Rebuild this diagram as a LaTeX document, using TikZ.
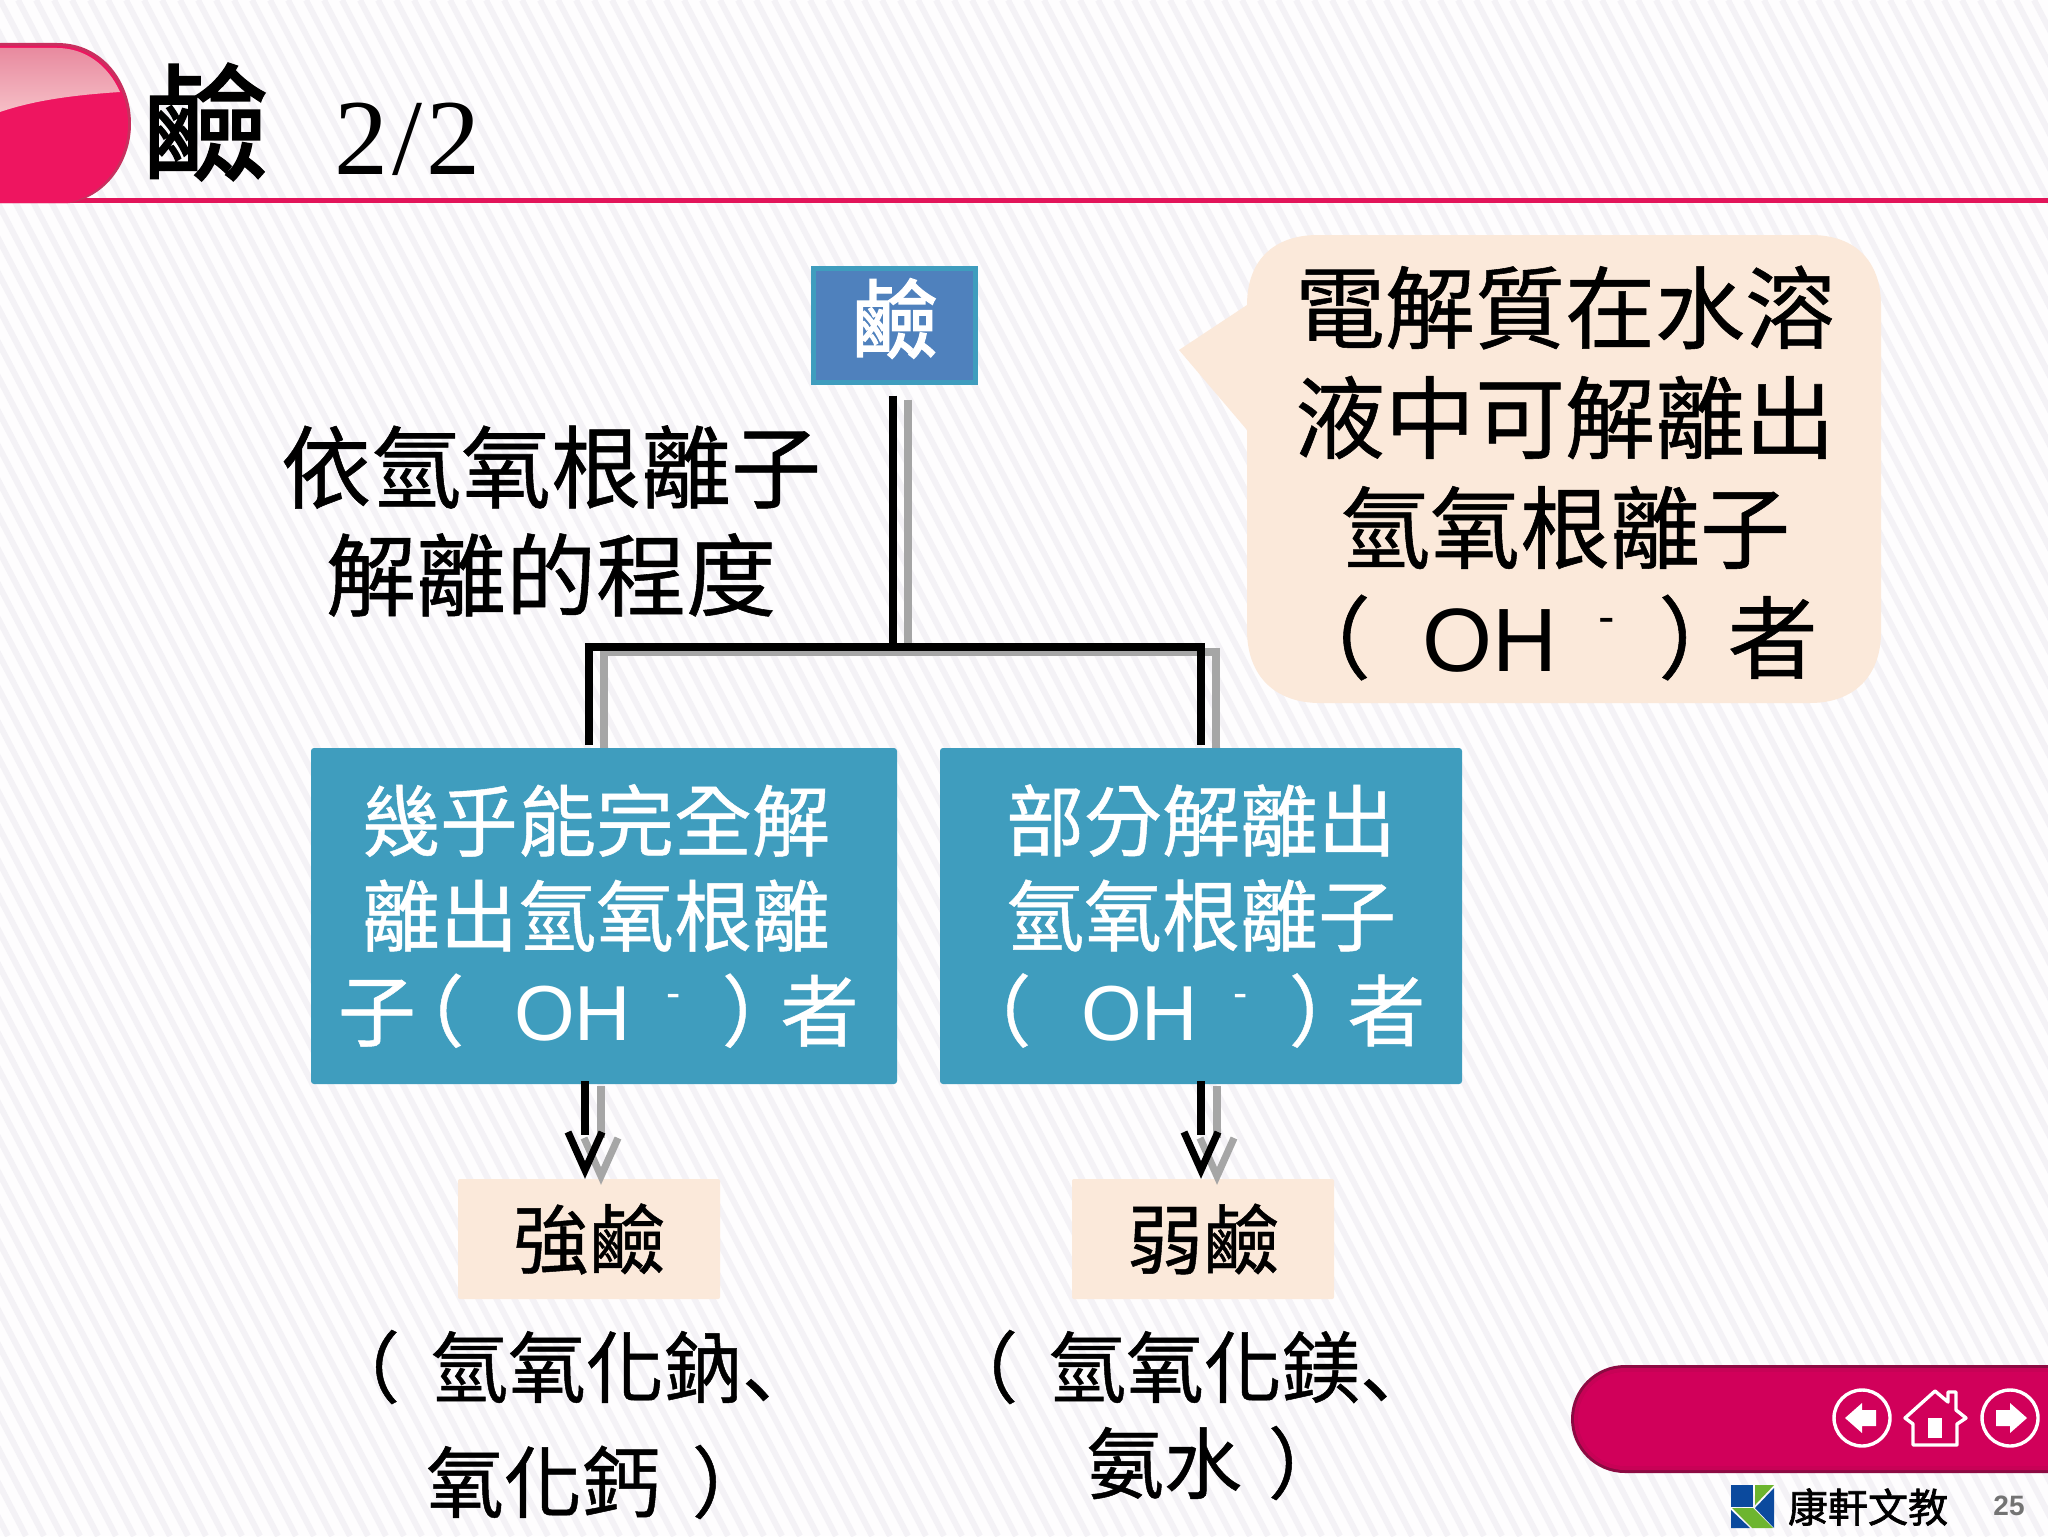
\documentclass[tikz,border=0pt]{standalone}
\usepackage{fontspec}
\setmainfont{Liberation Sans}
\newfontfamily\cjk[AutoFakeBold=0.6]{Noto Sans CJK TC}
\newfontfamily\cjkheavy[FakeBold=1.6]{Noto Sans CJK TC}
\newfontfamily\cjksc[AutoFakeBold=0.6]{Noto Sans CJK SC}
\newfontfamily\lib{Liberation Sans}
\newfontfamily\libser{Liberation Serif}
\usetikzlibrary{calc}
\definecolor{stripe}{HTML}{F4F2F6}
\definecolor{bgw}{HTML}{FEFDFE}
\definecolor{pill}{HTML}{EE1560}
\definecolor{pilledge}{HTML}{C8305F}
\definecolor{rule}{HTML}{E2155A}
\definecolor{teal}{HTML}{3F9DBE}
\definecolor{topblue}{HTML}{4F81BD}
\definecolor{peach}{HTML}{FBE9DA}
\definecolor{shade}{HTML}{A6A6A6}
\definecolor{nav}{HTML}{D1005A}
\definecolor{navdark}{HTML}{8C0A42}
\definecolor{logoblue}{HTML}{0B4A9E}
\definecolor{logogreen}{HTML}{6DB52F}
\definecolor{glosstop}{HTML}{E88A9F}
\definecolor{glossbot}{HTML}{F6BEC6}
\newcommand\ion[1]{{\lib\mdseries OH\kern#1\raisebox{.42em}{\scalebox{.55}{-}}}}
\tikzset{
  x=0.5pt,y=-0.5pt,
  every node/.style={inner sep=0pt,outer sep=0pt},
  tealbox/.style={fill=teal,rounded corners=1.5pt,text=white,align=center,font=\cjk\bfseries\fontsize{39}{47.5}\selectfont},
  peachbox/.style={fill=peach,rounded corners=1pt,minimum width=131pt,minimum height=60pt,font=\cjk\bfseries\fontsize{38}{46}\selectfont},
  plain/.style={font=\cjk\fontsize{39}{47.5}\selectfont\bfseries,anchor=west},
  bigtext/.style={align=center,font=\cjk\bfseries\fontsize{45}{54}\selectfont},
  blackline/.style={draw=black,line width=4pt,miter limit=10},
  shadeline/.style={draw=shade,line width=4pt,miter limit=10},
  navicon/.style={draw=white,line width=1.7pt,fill=none},
  navfill/.style={fill=white,draw=none}
}
\begin{document}
\begin{tikzpicture}
\useasboundingbox (0,0) rectangle (2048,1536);
% background
\fill[bgw] (0,0) rectangle (2048,1536);
\begin{scope}
\clip (0,0) rectangle (2048,1536);
\foreach \i in {-900,-882,...,2048}{
  \draw[stripe,line width=3pt] (\i,0) -- ++(800,1536);
}
\end{scope}
% header
\fill[rule] (0,198) rectangle (2048,203);
\fill[pilledge] (0,43) -- (57,43) .. controls (103,43) and (131,82) .. (131,124) .. controls (131,160) and (108,196) .. (70,203) -- (0,203) -- cycle;
\fill[pill] (0,46) -- (57,46) .. controls (100,46) and (128,84) .. (128,124) .. controls (128,160) and (105,194) .. (68,203) -- (0,203) -- cycle;
\shade[top color=glosstop,bottom color=glossbot] (0,48) -- (57,48) .. controls (85,48) and (108,65) .. (120,92) .. controls (75,95) and (35,100) .. (0,112) -- cycle;
% connectors: shadows first
\coordinate (jn) at (893,647);
\coordinate (bl) at (589,647);
\coordinate (br) at (1201,647);
\coordinate (sjn) at (908,652);
\coordinate (sbl) at (604,652);
\coordinate (sbr) at (1216,652);
\node[fill=topblue,draw=teal,line width=2.5pt,minimum width=81pt,minimum height=57pt] (base) at (894.5,325.5) {};
\draw[shadeline] ($(sjn |- base.south)+(0,17)$) -- (sjn);
\draw[shadeline] (604,750) -- (sbl) -- (sbr) -- (1216,750);
\draw[blackline] ($(jn |- base.south)+(0,13)$) -- (jn);
\node[tealbox,minimum width=293pt,minimum height=168pt] (strongbox) at (604,916) {幾乎能完全解\kern8pt\\離出氫氧根離\kern8pt\\子\kern-.38em（\kern.64em\ion{.45em}\kern.53em）\kern-.25em 者\kern.15em};
\node[tealbox,minimum width=261pt,minimum height=168pt] (weakbox) at (1201,916) {部分解離出\\氫氧根離子\\（\kern.64em\ion{.45em}\kern.53em）\kern-.25em 者\kern.3em};
\node[peachbox] (strong) at (589,1239) {\raisebox{-1.5pt}{強鹼}};
\node[peachbox] (weak) at (1203,1239) {\raisebox{-1.5pt}{弱鹼}};
\draw[blackline] ($(bl |- strongbox.north)+(0,-3)$) -- (bl) -- (br) -- ($(br |- weakbox.north)+(0,-3)$);
\foreach \b/\t/\cx in {strongbox/strong/585,weakbox/weak/1201}{
  \coordinate (s) at (\cx,1084);
  \draw[shadeline] (\cx+16,1086) -- (\cx+16,1138);
  \draw[shadeline,line width=3.6pt] (\cx-1,1138) -- (\cx+16,1176) -- (\cx+33,1138);
  \draw[blackline] (\cx,1081) -- (\cx,1135);
  \draw[blackline,line width=3.6pt] (\cx-17,1132) -- (\cx,1170) -- (\cx+17,1132);
}
% base text
\node[text=white,font=\cjkheavy\fontsize{43}{50}\selectfont] at ($(base.center)+(0,-7)$) {鹼};
% title
\node[anchor=center,font=\cjkheavy\fontsize{63}{70}\selectfont] (title) at (205,122) {鹼};
\node[anchor=base west,font=\libser\fontsize{54}{60}\selectfont] (num) at (334,174) {2\kern2pt/\kern2pt2};
% left label
\node[bigtext] (lab) at (551,521) {依氫氧根離子\\解離的程度};
% callout
\fill[peach] (1318,235) -- (1811,235) .. controls (1856,235) and (1881,262) .. (1881,305)
  -- (1881,632) .. controls (1881,676) and (1854,703) .. (1810,703)
  -- (1320,703) .. controls (1275,703) and (1247,676) .. (1247,630)
  -- (1247,430) -- (1179,350) -- (1247,305) .. controls (1247,262) and (1272,235) .. (1318,235) -- cycle;
\node[bigtext,font=\cjk\bfseries\fontsize{45}{55}\selectfont] (call) at (1565,473) {電解質在水溶\\液中可解離出\\氫氧根離子\\（\kern.57em\ion{.46em}\kern.48em）\kern-.23em 者\kern.35em};
% lower texts
\node[plain] (na1) at (322,1367) {（\kern15pt 氫氧化鈉{\cjksc 、}};
\node[plain] (na2) at (426,1482) {氧化鈣\kern16pt）};
\node[plain] (mg1) at (940,1367) {（\kern15pt 氫氧化鎂{\cjksc 、}};
\node[plain] (mg2) at (1086,1463) {氨水\kern13pt）};
% nav bar
\fill[navdark] (2048,1365) -- (1625,1365) arc[start angle=-90,end angle=-270,radius=54] -- (2048,1473) -- cycle;
\fill[nav!85!navdark] (2048,1368) -- (1625,1368) arc[start angle=-90,end angle=-270,radius=51] -- (2048,1470) -- cycle;
\fill[nav] (2048,1372) -- (1625,1372) arc[start angle=-90,end angle=-270,radius=47] -- (2048,1466) -- cycle;
\draw[navicon] (1862,1418) circle[radius=28];
\fill[navfill] (1845,1418) -- (1862,1403) -- (1862,1410) -- (1876,1410) -- (1876,1426) -- (1862,1426) -- (1862,1433) -- cycle;
\draw[navicon] (2010,1418) circle[radius=28];
\fill[navfill] (2027,1418) -- (2010,1403) -- (2010,1410) -- (1996,1410) -- (1996,1426) -- (2010,1426) -- (2010,1433) -- cycle;
\draw[navicon,line join=round] (1913,1424) -- (1905,1418) -- (1935,1391) -- (1948,1402) -- (1948,1392) -- (1956,1392) -- (1956,1410) -- (1966,1418) -- (1957,1424) -- (1957,1445) -- (1913,1445) -- cycle;
\fill[navfill] (1928,1418) rectangle (1942,1438);
% logo
\fill[logoblue] (1731,1485) rectangle (1753,1507);
\fill[logogreen] (1755,1485) -- (1774,1485) -- (1755,1505) -- cycle;
\fill[logoblue] (1774,1488) -- (1774,1528) -- (1755,1508) -- cycle;
\fill[logogreen] (1732,1508) -- (1753,1508) -- (1773,1528) -- (1752,1528) -- cycle;
\fill[logoblue] (1731,1510) -- (1750,1528) -- (1731,1528) -- cycle;
\node[anchor=center,font=\cjkheavy\fontsize{20}{24}\selectfont] (brand) at (1868,1507) {康軒文教};
\node[anchor=center,text=black!55,font=\lib\bfseries\fontsize{14}{16}\selectfont] (page) at (2009,1506) {25};
\end{tikzpicture}
\end{document}
